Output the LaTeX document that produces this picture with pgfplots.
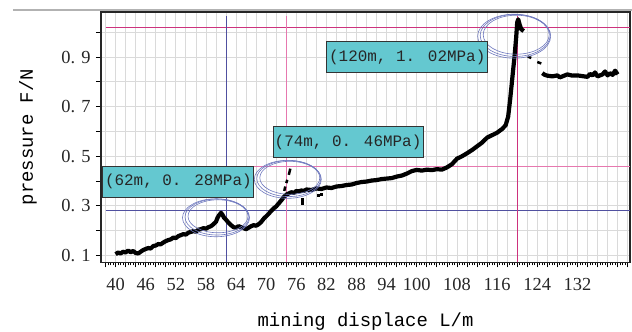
\documentclass[border=0pt]{standalone}
\usepackage{pgfplots}
\pgfplotsset{compat=1.18}
\usepackage{fontspec}
\setmainfont{Liberation Serif}
\newfontfamily\monofont{Liberation Mono}
\definecolor{refblue}{RGB}{80,80,160}
\definecolor{refpink}{RGB}{205,50,125}
\definecolor{reflpink}{RGB}{230,120,175}
\definecolor{boxfill}{RGB}{100,200,208}
\definecolor{ellc}{RGB}{110,120,190}
\definecolor{gridc}{RGB}{218,218,218}
\begin{document}
\begin{tikzpicture}
\begin{axis}[
  scale only axis, width=529bp, height=250.4bp,
  xmin=37.09, xmax=142.47, ymin=0.072, ymax=1.0816,
  clip=false,
  axis line style={black!85, line width=1.4bp},
  xtick={38,40,...,142},
  xticklabels={,40,,,46,,,52,,,58,,,64,,,70,,,76,,,82,,,88,,,94,,,100,,,,108,,,,116,,,,124,,,,132,,,,,},
  minor x tick num=3,
  ytick={0.1,0.2,0.3,0.4,0.5,0.6,0.7,0.8,0.9,1.0},
  yticklabels={0. 1,,0. 3,,0. 5,,0. 7,,0. 9,},
  grid=major, major grid style={gridc, line width=0.8bp},
  tick align=outside, xtick pos=bottom, ytick pos=left,
  major tick length=5bp, minor tick length=3bp,
  every tick/.style={black, line width=0.8bp},
  /pgf/number format/assume math mode=true,
  ticklabel style={font=\fontsize{18.5}{18.5}\selectfont, text=black!85},
  xticklabel style={yshift=-7bp},
  yticklabel style={xshift=-2bp},
  xlabel={mining displace L/m},
  ylabel={pressure F/N},
  xlabel style={font=\monofont\fontsize{19}{19}\selectfont, at={(rel axis cs:0.5,-0.2556)}, anchor=base},
  ylabel style={font=\monofont\fontsize{19}{19}\selectfont, at={(rel axis cs:-0.138,0.5)}, anchor=center},
]
% reference lines
\addplot[refblue, line width=1bp] coordinates {(38,0.28) (142.47,0.28)};
\addplot[reflpink, line width=1bp] coordinates {(38,0.46) (142.47,0.46)};
\addplot[refpink, line width=1bp] coordinates {(38,1.02) (142.47,1.02)};
\addplot[refblue, line width=1bp] coordinates {(62,0.072) (62,1.064)};
\addplot[reflpink, line width=1bp] coordinates {(74,0.072) (74,1.064)};
\addplot[refpink, line width=1bp] coordinates {(120,0.072) (120,1.064)};
% main trace
\addplot[black, line width=4.2bp, line join=round] coordinates {
(40.0,0.105) (40.5,0.112) (41.0,0.108) (41.5,0.115) (42.0,0.112) (42.5,0.120)
(43.0,0.113) (43.5,0.118) (44.0,0.110) (44.5,0.108) (45.0,0.115) (45.5,0.122)
(46.0,0.126) (46.5,0.130) (47.0,0.128) (47.5,0.138) (48.0,0.140) (48.5,0.146)
(49.0,0.145) (49.5,0.152) (50.0,0.158) (50.5,0.162) (51.0,0.165) (51.5,0.172)
(52.0,0.170) (52.5,0.178) (53.0,0.182) (53.5,0.186) (54.0,0.184) (54.5,0.192)
(55.0,0.195) (55.5,0.198) (56.0,0.196) (56.5,0.204) (57.0,0.206) (57.5,0.210)
(58.0,0.208) (58.5,0.214) (59.0,0.218) (59.5,0.226) (60.0,0.236) (60.3,0.252)
(60.6,0.262) (61.0,0.272) (61.3,0.264) (61.6,0.252) (62.0,0.244) (62.5,0.232)
(63.0,0.222) (63.5,0.214) (64.0,0.212) (64.5,0.218) (65.0,0.214) (65.5,0.210)
(66.0,0.206) (66.5,0.212) (67.0,0.218) (67.5,0.222) (68.0,0.220) (68.5,0.226)
(69.0,0.235) (69.5,0.248) (70.0,0.258) (70.5,0.268) (71.0,0.280) (71.5,0.290)
(72.0,0.298) (72.5,0.310) (73.0,0.322) (73.5,0.335) (74.0,0.345) (74.5,0.350)
(75.0,0.355) (75.5,0.352) (76.0,0.360) (76.5,0.358) (77.0,0.362) (77.5,0.360)
(78.0,0.366) (79.0,0.364) (80.0,0.370) (81.0,0.368) (82.0,0.374) (83.0,0.372)
(84.0,0.378) (85.0,0.380) (86.0,0.384) (87.0,0.386) (88.0,0.392) (89.0,0.396)
(90.0,0.398) (91.0,0.402) (92.0,0.404) (93.0,0.408) (94.0,0.410) (95.0,0.412)
(96.0,0.418) (97.0,0.422) (98.0,0.430) (99.0,0.440) (100.0,0.445) (101.0,0.442)
(102.0,0.446) (103.0,0.444) (104.0,0.448) (105.0,0.446) (106.0,0.455) (107.0,0.468)
(108.0,0.490) (109.0,0.500) (110.0,0.512) (111.0,0.525) (112.0,0.540) (113.0,0.555)
(114.0,0.575) (115.0,0.585) (116.0,0.595) (117.0,0.610) (117.7,0.625) (118.2,0.660)
(118.6,0.730) (118.9,0.790) (119.2,0.850) (119.5,0.910) (119.8,0.980) (120.0,1.040)
(120.2,1.052) (120.5,1.030) (120.8,1.012) (121.3,1.005)
};
% separated dashes
\addplot[black, line width=2.5bp, unbounded coords=jump] table {
x y
73.6 0.360
73.8 0.378
nan nan
74.0 0.392
74.2 0.405
nan nan
74.5 0.425
74.8 0.450
nan nan
122.1 0.902
122.8 0.896
nan nan
124.0 0.880
124.8 0.874
};
\addplot[only marks, mark=square*, mark size=1.1bp, black] coordinates {
(77.1,0.31) (77.2,0.325) (80.4,0.343) (81.0,0.347)};
% plateau
\addplot[black, line width=4.2bp, line join=round] coordinates {
(125.0,0.835) (125.5,0.828) (126.0,0.825) (127.0,0.822) (128.0,0.826) (128.5,0.818)
(129.0,0.822) (130.0,0.830) (131.0,0.825) (132.0,0.826) (133.0,0.823) (134.0,0.820)
(134.5,0.832) (135.0,0.826) (135.5,0.838) (136.0,0.822) (137.0,0.830) (137.5,0.842)
(138.0,0.826) (138.5,0.835) (139.0,0.828) (139.5,0.845) (140.0,0.830)
};
% ellipses
\draw[ellc, line width=0.6bp] (axis cs:60.2,0.255) ellipse [x radius=32bp, y radius=18bp];
\draw[ellc, line width=0.6bp] (axis cs:60.4,0.258) ellipse [x radius=30bp, y radius=16.5bp];
\draw[ellc, line width=0.6bp] (axis cs:60.0,0.252) ellipse [x radius=33.5bp, y radius=19bp];
\draw[ellc, line width=0.6bp] (axis cs:74.5,0.41) ellipse [x radius=32bp, y radius=18bp];
\draw[ellc, line width=0.6bp] (axis cs:74.7,0.413) ellipse [x radius=30bp, y radius=16.5bp];
\draw[ellc, line width=0.6bp] (axis cs:74.3,0.407) ellipse [x radius=33.5bp, y radius=19bp];
\draw[ellc, line width=0.6bp] (axis cs:119.6,0.987) ellipse [x radius=35bp, y radius=21bp];
\draw[ellc, line width=0.6bp] (axis cs:119.8,0.990) ellipse [x radius=33bp, y radius=19.5bp];
\draw[ellc, line width=0.6bp] (axis cs:119.4,0.984) ellipse [x radius=36.5bp, y radius=22bp];
% annotation boxes
\node[draw=black!80, line width=1bp, fill=boxfill, minimum width=151bp, minimum height=31bp, inner sep=0pt, font=\monofont\fontsize{16}{16}\selectfont, text=black!85] at (axis cs:52.5,0.397) {(62m, 0. 28MPa)};
\node[draw=black!80, line width=1bp, fill=boxfill, minimum width=150bp, minimum height=31bp, inner sep=0pt, font=\monofont\fontsize{16}{16}\selectfont, text=black!85] at (axis cs:86.3,0.557) {(74m, 0. 46MPa)};
\node[draw=black!80, line width=1bp, fill=boxfill, minimum width=161bp, minimum height=31bp, inner sep=0pt, font=\monofont\fontsize{16}{16}\selectfont, text=black!85] at (axis cs:98.1,0.899) {(120m, 1. 02MPa)};
\end{axis}
\draw[black!30, line width=1.5bp] ([shift={(-88bp,2bp)}]current axis.north west) -- ([shift={(2bp,2bp)}]current axis.north east);
\pgfresetboundingbox
\path[use as bounding box] ([shift={(-101bp,-69bp)}]current axis.south west) rectangle ([shift={(2bp,12bp)}]current axis.north east);
\end{tikzpicture}
\end{document}
